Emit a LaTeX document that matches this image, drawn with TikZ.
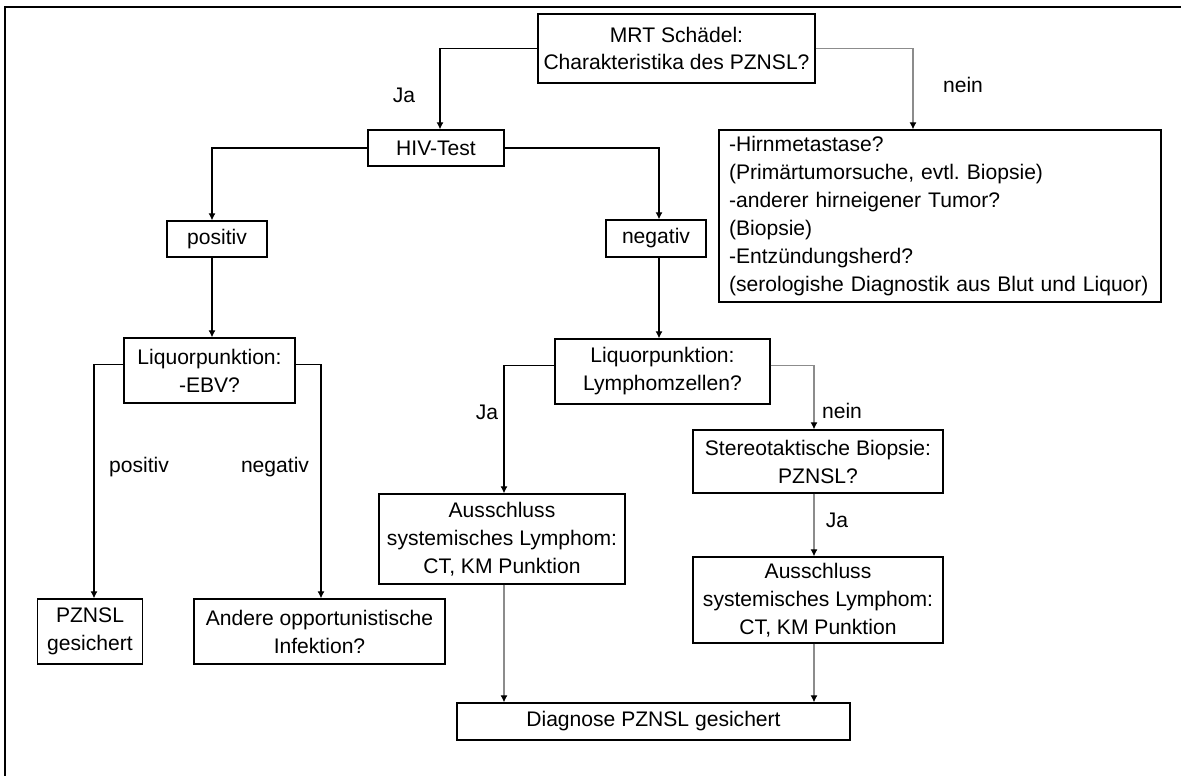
\documentclass[tikz,border=0pt]{standalone}
\usepackage{fontspec}
\setmainfont{Liberation Sans}
\usepackage{tikz}
\usetikzlibrary{arrows.meta}
\usetikzlibrary{calc}
\usetikzlibrary{positioning}

\begin{document}
\begin{tikzpicture}[x=0.02cm,y=-0.02cm,>={Latex[length=4pt,width=4pt]},font=\fontsize{12}{15.9}\selectfont]
 				 \tikzstyle{box}=[draw, line width=0.8pt, align=center, inner sep=2pt]
 				 \tikzstyle{conn}=[->, line width=0.6pt]
 				 \tikzstyle{grey}=[-{Latex[length=4pt,width=4pt,black]}, line width=0.6pt, color=black!45]
 				 \tikzstyle{lbl}=[inner sep=0pt]
 				 \useasboundingbox (0,0) rectangle (1181,776);
 				 \draw[line width=1.6pt] (5,776) -- (5,7) -- (1181,7);
 					 \node[box, minimum width=5.54cm, minimum height=1.38cm] (mrt) at (676.5,48.5) {MRT Schädel:\\Charakteristika des PZNSL?};
 					 \node[box, minimum width=2.72cm, minimum height=0.72cm] (hiv) at (436,148) {HIV-Test};
 					 \node[box, minimum width=2cm, minimum height=0.72cm] (pos) at (217,239) {positiv};
 					 \node[box, minimum width=2cm, minimum height=0.74cm] (neg) at (656,238.5) {negativ};
 					 \node[box, align=left, text width=8.44cm, inner xsep=0.2cm, minimum height=3.44cm] (diff) at (940,216) {-Hirnmetastase?\\(Primärtumorsuche, evtl.\ Biopsie)\\-anderer hirneigener Tumor?\\(Biopsie)\\-Entzündungsherd?\\(serologishe Diagnostik aus Blut und Liquor)};
 					 \node[box, minimum width=3.42cm, minimum height=1.3cm] (liq1) at (209.5,370.5) {Liquorpunktion:\\-EBV?};
 					 \node[box, minimum width=4.3cm, minimum height=1.3cm] (liq2) at (662.5,371.5) {Liquorpunktion:\\Lymphomzellen?};
 					 \node[box, minimum width=2.09cm, minimum height=1.3cm] (pzn) at (90,631.5) {PZNSL\\gesichert};
 					 \node[box, minimum width=5.02cm, minimum height=1.3cm] (opp) at (319.5,631.5) {Andere opportunistische\\Infektion?};
 					 \node[box, minimum width=4.92cm, minimum height=1.8cm] (aus1) at (502,539) {Ausschluss\\systemisches Lymphom:\\CT, KM Punktion};
 					 \node[box, minimum width=5cm, minimum height=1.26cm] (stereo) at (818,461.5) {Stereotaktische Biopsie:\\PZNSL?};
 					 \node[box, minimum width=5cm, minimum height=1.72cm] (aus2) at (818,600) {Ausschluss\\systemisches Lymphom:\\CT, KM Punktion};
 					 \node[box, minimum width=7.86cm, minimum height=0.74cm] (diag) at (653.5,721.5) {Diagnose PZNSL gesichert};
 					 % labels
 					 \node[lbl] (ja1) at (404,95) {Ja};
 					 \node[lbl] (nein1) at (963,85) {nein};
 					 \node[lbl] (pos2) at (139,467) {positiv};
 					 \node[lbl] (neg2) at (275,467) {negativ};
 					 \node[lbl] (ja2) at (487,412) {Ja};
 					 \node[lbl] (nein2) at (842,411) {nein};
 					 \node[lbl] (ja3) at (837,520) {Ja};
				\draw[conn] (mrt.west) -| ([xshift=0.08cm]hiv.north);
				\draw[grey] (mrt.east) -| ([xshift=-0.54cm]diff.north);
				\draw[conn] (hiv.west) -| ([xshift=-0.1cm]pos.north);
				\draw[conn] (hiv.east) -| ([xshift=0.06cm]neg.north);
				\draw[conn] ([xshift=-0.1cm]pos.south) -- ([xshift=-0.1cm]pos.south |- liq1.north);
				\draw[conn] ([xshift=0.06cm]neg.south) -- ([xshift=0.06cm]neg.south |- liq2.north);
				\draw[conn] ([yshift=0.12cm]liq1.west) -| ([xshift=0.08cm]pzn.north);
				\draw[conn] ([yshift=0.12cm]liq1.east) -| ([xshift=0.03cm]opp.north);
				\draw[conn] ([yshift=0.12cm]liq2.west) -| ([xshift=0.04cm]aus1.north);
				\draw[grey] ([yshift=0.12cm]liq2.east) -| ([xshift=-0.08cm]stereo.north);
				\draw[grey] ([xshift=-0.08cm]stereo.south) -- ([xshift=-0.08cm]aus2.north);
				\draw[grey] ([xshift=0.04cm]aus1.south) -- ([xshift=0.04cm]aus1.south |- diag.north);
				\draw[grey] ([xshift=-0.08cm]aus2.south) -- ([xshift=-0.08cm]aus2.south |- diag.north);
\end{tikzpicture}
\end{document}
